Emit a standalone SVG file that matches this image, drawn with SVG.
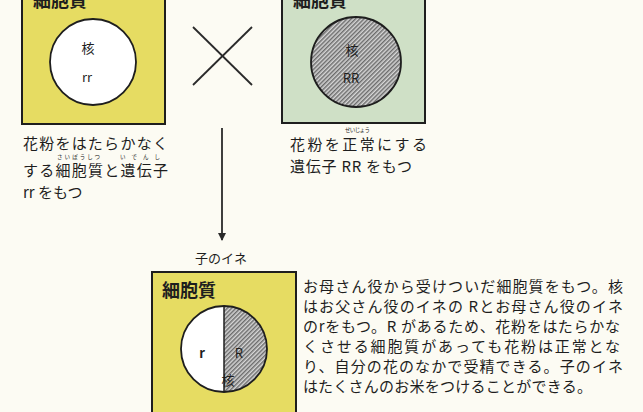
<svg xmlns="http://www.w3.org/2000/svg" width="643" height="412" viewBox="0 0 643 412">
  <style>
    .box { stroke: #1e1e1e; stroke-width: 2; }
    .yellow { fill: #e6dc62; }
    .green { fill: #cfe0c6; }
    .nuc { stroke: #1e1e1e; stroke-width: 1.8; }
    .t { font-family: "Noto Sans CJK JP", "Noto Sans", sans-serif; fill: #1e1e1e; }
    .title { font-size: 18px; font-weight: bold; }
    .body { font-size: 15px; }
    .small { font-size: 13px; }
    .ruby { font-size: 5.5px; }
    .conn { stroke: #2a2a2a; stroke-width: 1.8; fill: none; }
  </style>
  <defs>
    <pattern id="hatch" width="3" height="3" patternUnits="userSpaceOnUse" patternTransform="rotate(45)">
      <rect width="3" height="3" fill="#d6d6d6"/>
      <line x1="0.8" y1="0" x2="0.8" y2="3" stroke="#484848" stroke-width="1.1"/>
    </pattern>
    <marker id="arrow" markerWidth="8" markerHeight="8" refX="7" refY="4" orient="auto" markerUnits="userSpaceOnUse">
      <path d="M0,0 L8,4 L0,8 z" fill="#2a2a2a"/>
    </marker>
  </defs>

  <rect width="643" height="412" fill="#fcfbf3"/>

  <!-- mother plant: sterile cytoplasm, nucleus rr -->
  <g id="mother">
    <rect class="box yellow" x="22" y="-4" width="143" height="128"/>
    <text class="t title" x="33" y="7">細胞質</text>
    <circle class="nuc" cx="93" cy="62" r="43" fill="#ffffff"/>
    <text class="t small" x="88" y="53" text-anchor="middle">核</text>
    <text class="t small" x="87" y="82" text-anchor="middle">rr</text>
    <text class="t body" x="23" y="149" textLength="145">花粉をはたらかなく</text>
    <text class="t ruby" x="57" y="159" textLength="43">さいぼうしつ</text>
    <text class="t ruby" x="120" y="159" textLength="40">いでんし</text>
    <text class="t body" x="23" y="176" textLength="145">する細胞質と遺伝子</text>
    <text class="t body" x="23" y="198">rr をもつ</text>
  </g>

  <!-- father plant: normal cytoplasm, nucleus RR -->
  <g id="father">
    <rect class="box green" x="282" y="-4" width="143" height="127"/>
    <text class="t title" x="293" y="7">細胞質</text>
    <circle class="nuc" cx="356" cy="62" r="45" fill="url(#hatch)"/>
    <text class="t small" x="352" y="55" text-anchor="middle">核</text>
    <text class="t small" x="351" y="83" text-anchor="middle">RR</text>
    <text class="t ruby" x="345" y="132" textLength="25">せいじょう</text>
    <text class="t body" x="290" y="150" textLength="137">花粉を正常にする</text>
    <text class="t body" x="290" y="172" textLength="122">遺伝子 RR をもつ</text>
  </g>

  <!-- offspring plant: mother's cytoplasm, nucleus Rr -->
  <g id="child">
    <text class="t small" x="221" y="263" text-anchor="middle">子のイネ</text>
    <rect class="box yellow" x="152" y="272" width="144" height="144"/>
    <text class="t title" x="162" y="297">細胞質</text>
    <circle cx="224" cy="349" r="43" fill="#ffffff"/>
    <path d="M224,306 A43,43 0 0 1 224,392 Z" fill="url(#hatch)"/>
    <line x1="224" y1="306" x2="224" y2="392" stroke="#1e1e1e" stroke-width="1.5"/>
    <circle class="nuc" cx="224" cy="349" r="43" fill="none"/>
    <text class="t small" x="202" y="358" text-anchor="middle" font-weight="bold">r</text>
    <text class="t small" x="239" y="358" text-anchor="middle">R</text>
    <text class="t small" x="228" y="385" text-anchor="middle">核</text>
  </g>

  <!-- explanation of the offspring -->
  <g id="note">
    <text class="t body" x="303" y="292" textLength="320">お母さん役から受けついだ細胞質をもつ。核</text>
    <text class="t body" x="303" y="312" textLength="320">はお父さん役のイネの Rとお母さん役のイネ</text>
    <text class="t body" x="303" y="332" textLength="317">のrをもつ。R があるため、花粉をはたらかな</text>
    <text class="t body" x="303" y="352" textLength="317">くさせる細胞質があっても花粉は正常とな</text>
    <text class="t body" x="303" y="372" textLength="320">り、自分の花のなかで受精できる。子のイネ</text>
    <text class="t body" x="303" y="392" textLength="289">はたくさんのお米をつけることができる。</text>
  </g>

  <g id="connectors">
    <line class="conn" x1="193" y1="27" x2="252" y2="85"/>
    <line class="conn" x1="252" y1="27" x2="193" y2="85"/>
    <line class="conn" x1="222" y1="128" x2="222" y2="240" marker-end="url(#arrow)"/>
  </g>
</svg>
